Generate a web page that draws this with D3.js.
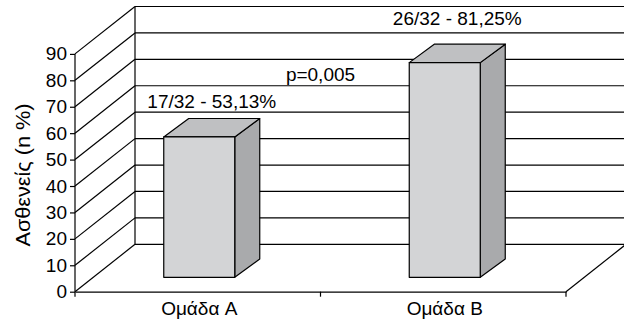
<!DOCTYPE html>
<html>
<head>
<meta charset="utf-8">
<script src="https://cdn.jsdelivr.net/npm/d3@7/dist/d3.min.js"></script>
<style>
  html, body { margin: 0; padding: 0; background: #fff; }
  svg { display: block; font-family: "Liberation Sans", Arial, sans-serif; }
</style>
</head>
<body>
<svg id="chart" width="624" height="322"></svg>
<script>
// Patients per group (percent) with counts
const groups = ["Ομάδα A", "Ομάδα B"];
const percents = [53.13, 81.25];
const barLabels = ["17/32 - 53,13%", "26/32 - 81,25%"];
const labelLevels = [69.7, 100.8];   // baseline level of each label, in axis units
const yTicks = [0, 10, 20, 30, 40, 50, 60, 70, 80, 90];
const pValueText = "p=0,005";
const pValueLevel = 79.8;
const yTitle = "Ασθενείς (n %)";

const svg = d3.select("#chart");
const FONT = "Liberation Sans, Arial, sans-serif";
const FS = 19;

// front plane of the 3D box and its oblique depth offset
const front = { left: 75, right: 566 };
const depth = { dx: 60, dy: -47.4 };
// bar geometry inside the box
const bar = { width: 71, lift: 14.4, dx: 25, dy: -18.4, shift: 1.5 };

const x = d3.scaleBand().domain(groups).range([front.left, front.right]).padding(0);
const y = d3.scaleLinear().domain([0, 90]).range([291.7, 53.9]);

const ink = "#000";
const gridW = 1.2;

// back wall: vertical edge and horizontal gridlines
const back = svg.append("g").attr("stroke", ink).attr("stroke-width", gridW).attr("fill", "none");
back.append("line")
  .attr("x1", front.left + depth.dx).attr("x2", front.left + depth.dx)
  .attr("y1", y(90) + depth.dy).attr("y2", y(0) + depth.dy);
back.selectAll("line.grid").data(yTicks).join("line").attr("class", "grid")
  .attr("x1", front.left + depth.dx).attr("x2", front.right + depth.dx + 2)
  .attr("y1", d => y(d) + depth.dy).attr("y2", d => y(d) + depth.dy);

// side wall diagonals
back.selectAll("line.diag").data(yTicks).join("line").attr("class", "diag")
  .attr("x1", front.left).attr("y1", d => y(d))
  .attr("x2", front.left + depth.dx).attr("y2", d => y(d) + depth.dy);

// floor right edge
back.append("line")
  .attr("x1", front.right).attr("y1", y(0))
  .attr("x2", front.right + depth.dx).attr("y2", y(0) + depth.dy);

// bars: side, top and front faces
const bars = svg.append("g").attr("stroke", ink).attr("stroke-width", 1.2).attr("stroke-linejoin", "round");
groups.forEach((g, i) => {
  const cx = x(g) + x.bandwidth() / 2 + bar.shift;
  const l = cx - bar.width / 2, r = cx + bar.width / 2;
  const t = y(percents[i]) - bar.lift, b = y(0) - bar.lift;
  const pts = a => a.map(p => p.join(",")).join(" ");
  bars.append("polygon").attr("fill", "#a9aaac")
    .attr("points", pts([[r, t], [r + bar.dx, t + bar.dy], [r + bar.dx, b + bar.dy], [r, b]]));
  bars.append("polygon").attr("fill", "#bfc0c2")
    .attr("points", pts([[l, t], [l + bar.dx, t + bar.dy], [r + bar.dx, t + bar.dy], [r, t]]));
  bars.append("polygon").attr("fill", "#d3d4d6")
    .attr("points", pts([[l, t], [r, t], [r, b], [l, b]]));
});

// front axes
const axes = svg.append("g");
const yAxis = d3.axisLeft(y).tickValues(yTicks).tickSize(5).tickPadding(3);
axes.append("g").attr("transform", `translate(${front.left},0)`).call(yAxis)
  .call(s => s.select(".domain").attr("stroke", ink).attr("stroke-width", gridW).attr("d", `M-0,${y(90)}V${y(0)}`))
  .call(s => s.selectAll(".tick line").attr("stroke", ink).attr("stroke-width", gridW))
  .call(s => s.selectAll(".tick text").attr("fill", "#000").attr("font-size", FS).attr("font-family", FONT));

const xAxis = d3.axisBottom(x).tickSize(0).tickPadding(10);
const xg = axes.append("g").attr("transform", `translate(0,${y(0)})`).call(xAxis);
xg.select(".domain").attr("stroke", ink).attr("stroke-width", gridW);
xg.selectAll(".tick text").attr("fill", "#000").attr("font-size", FS).attr("font-family", FONT)
  .attr("dy", "0.71em").attr("transform", `translate(${bar.shift},0)`);
// category boundary ticks
xg.selectAll("line.sep").data([front.left, x(groups[1]), front.right]).join("line").attr("class", "sep")
  .attr("x1", d => d).attr("x2", d => d).attr("y1", 0).attr("y2", 5)
  .attr("stroke", ink).attr("stroke-width", gridW);

// axis title
svg.append("text")
  .attr("transform", `translate(30,175) rotate(-90)`)
  .attr("text-anchor", "middle").attr("font-size", 20.5).attr("fill", "#000")
  .attr("textLength", 143).attr("lengthAdjust", "spacingAndGlyphs")
  .text(yTitle);

// value labels above bars
groups.forEach((g, i) => {
  const cx = x(g) + x.bandwidth() / 2 + bar.shift + bar.dx / 2;
  svg.append("text").attr("x", cx).attr("y", y(labelLevels[i]))
    .attr("text-anchor", "middle").attr("font-size", FS).attr("fill", "#000")
    .text(barLabels[i]);
});

// significance
svg.append("text").attr("x", x(groups[1])).attr("y", y(pValueLevel))
  .attr("text-anchor", "middle").attr("font-size", FS).attr("fill", "#000")
  .text(pValueText);
</script>
</body>
</html>
